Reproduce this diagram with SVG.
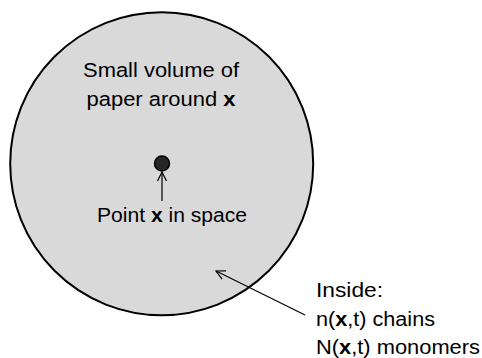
<svg xmlns="http://www.w3.org/2000/svg" width="482" height="358" viewBox="0 0 482 358">
<style>
text{font-family:"Liberation Sans",Arial,sans-serif;font-size:20px;fill:#000}
.b{font-weight:bold}
.c{stroke:#000;stroke-width:1.2;fill:none}
</style>
<defs>
<marker id="oa" markerWidth="12" markerHeight="12" refX="10" refY="6" orient="auto" markerUnits="userSpaceOnUse">
<path d="M1,1.5 L10,6 L1,10.5" fill="none" stroke="#000" stroke-width="1.2"/>
</marker>
</defs>
<rect width="482" height="358" fill="#fff"/>
<g id="volume">
<circle cx="161.7" cy="163.7" r="151.5" fill="#d9d9d9" stroke="#000" stroke-width="2"/>
<text x="161" y="77" text-anchor="middle" textLength="156" lengthAdjust="spacingAndGlyphs">Small volume of</text>
<text x="161" y="106" text-anchor="middle" textLength="149" lengthAdjust="spacingAndGlyphs">paper around <tspan class="b">x</tspan></text>
</g>
<g id="point">
<circle cx="162" cy="163.5" r="7.5" fill="#262626" stroke="#000" stroke-width="1.5"/>
<text x="172" y="221.5" text-anchor="middle" textLength="150" lengthAdjust="spacingAndGlyphs">Point <tspan class="b">x</tspan> in space</text>
</g>
<g id="inside">
<text x="316" y="297" textLength="67" lengthAdjust="spacingAndGlyphs">Inside:</text>
<text x="316" y="326" textLength="119" lengthAdjust="spacingAndGlyphs">n(<tspan class="b">x</tspan>,t) chains</text>
<text x="316" y="354" textLength="164" lengthAdjust="spacingAndGlyphs">N(<tspan class="b">x</tspan>,t) monomers</text>
</g>
<g id="connectors">
<line class="c" x1="305" y1="315" x2="216" y2="271" marker-end="url(#oa)"/>
<line class="c" x1="162" y1="201" x2="162" y2="172" marker-end="url(#oa)"/>
</g>
</svg>
